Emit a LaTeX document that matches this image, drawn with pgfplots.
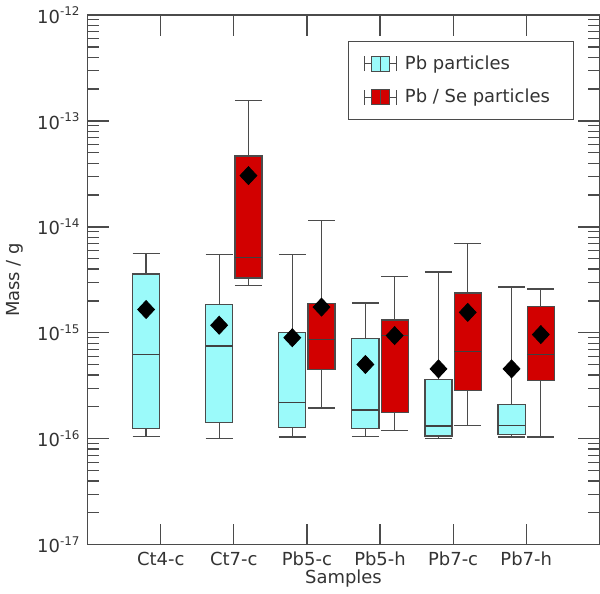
\documentclass[border=0pt]{standalone}
\usepackage{pgfplots}
\pgfplotsset{compat=1.18}
\usepackage{fontspec}
\setmainfont{DejaVu Sans}

\definecolor{boxcyan}{RGB}{155,250,250}
\definecolor{boxred}{RGB}{210,0,0}
\definecolor{axgray}{RGB}{75,75,75}

% one box: centre, lower whisker, lower quartile, median, upper quartile, upper whisker, fill
\newcommand{\bplot}[7]{%
  \pgfmathsetmacro{\xl}{#1-0.185}%
  \pgfmathsetmacro{\xr}{#1+0.185}%
  \addplot[forget plot, draw=axgray, line width=0.6pt] coordinates {(#1,#2) (#1,#3)};
  \addplot[forget plot, draw=axgray, line width=0.6pt] coordinates {(#1,#5) (#1,#6)};
  \addplot[forget plot, draw=axgray, line width=0.6pt] coordinates {(\xl,#2) (\xr,#2)};
  \addplot[forget plot, draw=axgray, line width=0.6pt] coordinates {(\xl,#6) (\xr,#6)};
  \addplot[forget plot, draw=axgray, line width=0.6pt, fill=#7] coordinates {(\xl,#3) (\xr,#3) (\xr,#5) (\xl,#5)} --cycle;
  \addplot[forget plot, draw=black!75, line width=0.6pt] coordinates {(\xl,#4) (\xr,#4)};
}

\pgfplotsset{
  boxicon/.style={
    legend image code/.code={
      \draw[axgray,line width=0.6pt] (0pt,-3.75pt) -- (0pt,3.75pt) (0pt,0pt) -- (16pt,0pt) (16pt,-3.75pt) -- (16pt,3.75pt);
      \draw[axgray,fill=#1,line width=0.6pt] (3.5pt,-3.75pt) rectangle (12.5pt,3.75pt);
      \draw[axgray,line width=0.6pt] (8pt,-3.75pt) -- (8pt,3.75pt);
    }},
}

\begin{document}
\begin{tikzpicture}
\begin{axis}[
    scale only axis,
    width=256.5pt, height=265.5pt,
    ymode=log,
    xmin=0, xmax=7,
    ymin=1e-17, ymax=1e-12,
    xtick={1,2,3,4,5,6},
    xticklabels={Ct4-c, Ct7-c, Pb5-c, Pb5-h, Pb7-c, Pb7-h},
    ytick={1e-17,1e-16,1e-15,1e-14,1e-13,1e-12},
    yticklabels={10\textsuperscript{-17},10\textsuperscript{-16},10\textsuperscript{-15},10\textsuperscript{-14},10\textsuperscript{-13},10\textsuperscript{-12}},
    major tick length=10.5pt,
    minor tick length=5.5pt,
    tick style={axgray, line width=0.6pt},
    axis line style={axgray, line width=0.7pt},
    every tick label/.append style={font=\fontsize{9}{11}\selectfont, text=black!80},
    xlabel={Samples},
    ylabel={Mass / g},
    label style={font=\fontsize{9}{11}\selectfont, text=black!80},
    xlabel style={yshift=5pt},
    legend style={at={(0.951,0.951)}, anchor=north east, draw=axgray,
      font=\fontsize{9}{11}\selectfont, text=black!80,
      row sep=4.5pt, inner xsep=8pt, inner ysep=5pt,
      nodes={inner xsep=4pt}},
    legend cell align=left,
]

% Pb particles (cyan)
\bplot{0.8}{1.05e-16}{1.25e-16}{6.3e-16}{3.6e-15}{5.65e-15}{boxcyan}
\bplot{1.8}{1.0e-16}{1.43e-16}{7.5e-16}{1.85e-15}{5.46e-15}{boxcyan}
\bplot{2.8}{1.04e-16}{1.28e-16}{2.2e-16}{1.0e-15}{5.46e-15}{boxcyan}
\bplot{3.8}{1.05e-16}{1.26e-16}{1.87e-16}{8.83e-16}{1.91e-15}{boxcyan}
\bplot{4.8}{1.0e-16}{1.06e-16}{1.32e-16}{3.63e-16}{3.75e-15}{boxcyan}
\bplot{5.8}{1.04e-16}{1.1e-16}{1.34e-16}{2.09e-16}{2.71e-15}{boxcyan}

% Pb/Se particles (red)
\bplot{2.2}{2.79e-15}{3.29e-15}{5.15e-15}{4.67e-14}{1.56e-13}{boxred}
\bplot{3.2}{1.95e-16}{4.5e-16}{8.6e-16}{1.88e-15}{1.15e-14}{boxred}
\bplot{4.2}{1.2e-16}{1.76e-16}{9.5e-16}{1.32e-15}{3.41e-15}{boxred}
\bplot{5.2}{1.34e-16}{2.88e-16}{6.7e-16}{2.38e-15}{6.93e-15}{boxred}
\bplot{6.2}{1.04e-16}{3.56e-16}{6.25e-16}{1.78e-15}{2.59e-15}{boxred}

% means
\addplot[forget plot, only marks, mark=diamond*, mark size=4.5pt,
  mark options={xscale=1.25, fill=black, draw=black}] coordinates {
  (0.8,1.66e-15) (1.8,1.18e-15) (2.2,3.05e-14)
  (2.8,9.0e-16) (3.2,1.75e-15)
  (3.8,5.03e-16) (4.2,9.42e-16)
  (4.8,4.57e-16) (5.2,1.56e-15)
  (5.8,4.57e-16) (6.2,9.63e-16)
};

\addlegendimage{boxicon=boxcyan}
\addlegendentry{Pb particles}
\addlegendimage{boxicon=boxred}
\addlegendentry{Pb / Se particles}
\end{axis}
\end{tikzpicture}
\end{document}
